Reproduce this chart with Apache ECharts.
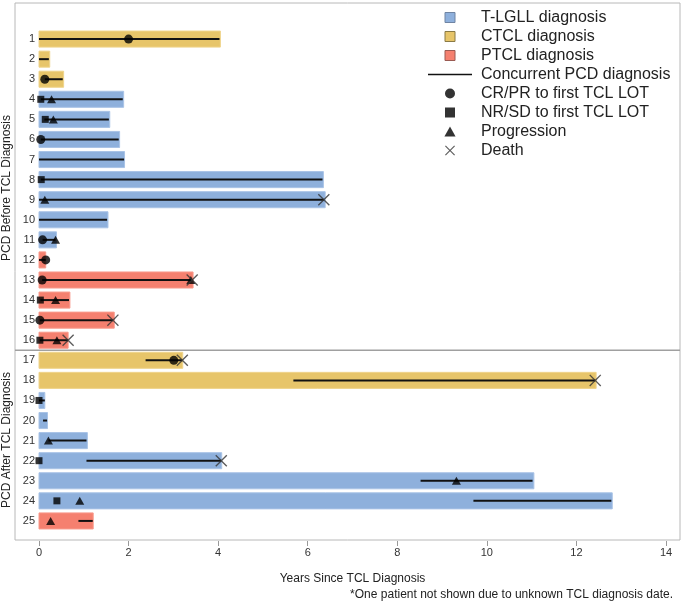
<!DOCTYPE html>
<html><head><meta charset="utf-8">
<script src="https://cdn.jsdelivr.net/npm/echarts@6/dist/echarts.min.js"></script>
<style>html,body{margin:0;padding:0;background:#fff}#c{width:682px;height:605px}</style>
</head><body><div id="c"></div>
<script>
// ---- data ----
const patients = [1,2,3,4,5,6,7,8,9,10,11,12,13,14,15,16,17,18,19,20,21,22,23,24,25];
const tclType = ['CTCL','CTCL','CTCL','T-LGLL','T-LGLL','T-LGLL','T-LGLL','T-LGLL','T-LGLL','T-LGLL','T-LGLL',
  'PTCL','PTCL','PTCL','PTCL','PTCL','CTCL','CTCL','T-LGLL','T-LGLL','T-LGLL','T-LGLL','T-LGLL','T-LGLL','PTCL'];
const followUpYears = [4.05,0.24,0.55,1.89,1.58,1.80,1.91,6.35,6.39,1.54,0.39,0.15,3.44,0.69,1.68,0.65,
  3.21,12.44,0.13,0.19,1.08,4.08,11.05,12.80,1.21];
const pcdStart = [0,0,0.13,0.04,0.12,0.04,0,0.04,0,0,0.08,0,0.07,0.03,0.02,0.02,2.38,5.68,0,0.09,0.21,1.06,8.52,9.70,0.88];
const pcdEnd = [4.03,0.22,0.53,1.87,1.56,1.78,1.90,6.33,6.36,1.52,0.37,0.15,3.40,0.67,1.65,0.65,3.20,12.42,0.13,0.18,1.06,4.07,11.02,12.78,1.20];
const crprPoints = [[2.0,1],[0.13,3],[0.04,6],[0.08,11],[0.15,12],[0.07,13],[0.02,15],[3.01,17]];
const nrsdPoints = [[0.04,4],[0.14,5],[0.05,8],[0.03,14],[0.02,16],[0.0,19],[0.0,22],[0.40,24]];
const progressionPoints = [[0.28,4],[0.32,5],[0.13,9],[0.37,11],[3.39,13],[0.37,14],[0.40,16],[0.21,21],[9.32,23],[0.91,24],[0.26,25]];
const deathPoints = [[6.36,9],[3.42,13],[1.65,15],[0.65,16],[3.20,17],[12.42,18],[4.07,22]];
const dividerAfterRow = 16;
const xTicks = {min: 0, max: 14, interval: 2};
const typeNames = {'T-LGLL':'T-LGLL diagnosis','CTCL':'CTCL diagnosis','PTCL':'PTCL diagnosis'};
const typeColors = {'T-LGLL':['#8eb0dc','#a9c3e6'],'CTCL':['#e7c56a','#efd48c'],'PTCL':['#f5806f','#f89a8c']};

const FONT = "'Liberation Sans', Arial, sans-serif";
const X_PATH = 'path://M8,0L50,42L92,0L100,8L58,50L100,92L92,100L50,58L8,100L0,92L42,50L0,8Z';

const chart = echarts.init(document.getElementById('c'));

function barRender(params, api) {
  const s = api.coord([0, api.value(1)]);
  const e = api.coord([api.value(0), api.value(1)]);
  const h = api.size([0, 1])[1] * 0.8;
  return {type:'rect', shape:{x:s[0], y:s[1]-h/2, width:e[0]-s[0], height:h}, style: api.style()};
}
function lineRender(params, api) {
  const s = api.coord([api.value(0), api.value(2)]);
  const e = api.coord([api.value(1), api.value(2)]);
  return {type:'line', shape:{x1:s[0], y1:s[1], x2:e[0], y2:e[1]}, style:{stroke:'#111', lineWidth:2}};
}

const barSeries = Object.keys(typeNames).map(t => ({
  type:'custom', name: typeNames[t], xAxisIndex:1, yAxisIndex:1, z:2,
  renderItem: barRender,
  itemStyle:{color: typeColors[t][0], borderColor: typeColors[t][1], borderWidth:1},
  encode:{x:0, y:1},
  data: patients.map((p,i) => tclType[i] === t ? [followUpYears[i], p] : null).filter(d => d)
}));

const option = {
  animation:false,
  backgroundColor:'#fff',
  textStyle:{fontFamily: FONT},
  grid:[
    {left:15, right:2, top:3, bottom:65, show:true, borderColor:'#b8b8b8', borderWidth:1, backgroundColor:'transparent'},
    {left:39, right:16, top:19, bottom:64}
  ],
  xAxis:[
    {gridIndex:0, type:'value', min:0, max:1, show:false},
    {gridIndex:1, type:'value', position:'bottom', min:xTicks.min, max:xTicks.max, interval:xTicks.interval,
     axisLine:{show:false, onZero:false}, splitLine:{show:false},
     axisTick:{show:true, length:5, lineStyle:{color:'#999'}},
     axisLabel:{fontSize:11, color:'#333', margin:6, fontFamily:FONT},
     name:'Years Since TCL Diagnosis', nameLocation:'middle', nameGap:32,
     nameTextStyle:{fontSize:12, color:'#222', fontFamily:FONT}}
  ],
  yAxis:[
    {gridIndex:0, type:'value', inverse:true, min:-16/20.077, max:26-1/20.077, show:false},
    {gridIndex:1, type:'value', inverse:true, min:0, max:26, interval:1,
     axisLine:{show:false, onZero:false}, axisTick:{show:false}, splitLine:{show:false},
     axisLabel:{fontSize:11, color:'#333', margin:4, fontFamily:FONT,
       formatter: v => (v >= 1 && v <= patients.length) ? String(v) : ''}}
  ],
  legend:{
    orient:'vertical', left:428, top:8, padding:0, itemWidth:44, itemHeight:10, itemGap:0,
    selectedMode:false,
    textStyle:{fontSize:16, lineHeight:19, color:'#222', fontFamily:FONT, padding:[0,0,0,4]},
    data:[
      {name:'T-LGLL diagnosis', icon:'path://M0,0H10V10H0Z', itemStyle:{borderColor:'#6f84a3', borderWidth:1}},
      {name:'CTCL diagnosis', icon:'path://M0,0H10V10H0Z', itemStyle:{borderColor:'#8a7a45', borderWidth:1}},
      {name:'PTCL diagnosis', icon:'path://M0,0H10V10H0Z', itemStyle:{borderColor:'#9a5a52', borderWidth:1}},
      {name:'Concurrent PCD diagnosis', icon:'path://M0,0H44V1.6H0Z', itemStyle:{borderWidth:0}},
      {name:'CR/PR to first TCL LOT', icon:'circle', itemStyle:{borderWidth:0}},
      {name:'NR/SD to first TCL LOT', icon:'path://M0,0H10V10H0Z', itemStyle:{borderWidth:0}},
      {name:'Progression', icon:'path://M5,0L10,9L0,9Z', itemStyle:{borderWidth:0}},
      {name:'Death', icon:X_PATH, itemStyle:{borderWidth:0}}
    ]
  },
  graphic:[
    {type:'text', x:7, y:188, rotation:Math.PI/2,
     style:{text:'PCD Before TCL Diagnosis', font:'12px '+FONT, fill:'#222', align:'center', verticalAlign:'middle'}},
    {type:'text', x:7, y:440, rotation:Math.PI/2,
     style:{text:'PCD After TCL Diagnosis', font:'12px '+FONT, fill:'#222', align:'center', verticalAlign:'middle'}},
    {type:'text', right:9, top:589,
     style:{text:'*One patient not shown due to unknown TCL diagnosis date.', font:'12px '+FONT, fill:'#222'}}
  ],
  series:[
    {type:'custom', name:'divider', xAxisIndex:0, yAxisIndex:0, silent:true, z:5,
     data:[[dividerAfterRow + 0.5]], encode:{y:0},
     renderItem:(params, api) => {
       const cs = params.coordSys;
       const p = api.coord([0, api.value(0)]);
       return {type:'line', shape:{x1:cs.x, y1:p[1], x2:cs.x+cs.width, y2:p[1]}, style:{stroke:'#a0a0a0', lineWidth:1.6}};
     }},
    ...barSeries,
    {type:'custom', name:'Concurrent PCD diagnosis', xAxisIndex:1, yAxisIndex:1, z:3,
     itemStyle:{color:'#111'}, encode:{x:[0,1], y:2}, renderItem: lineRender,
     data: patients.map((p,i) => [pcdStart[i], pcdEnd[i], p])},
    {type:'scatter', name:'CR/PR to first TCL LOT', xAxisIndex:1, yAxisIndex:1, z:4, clip:false,
     symbol:'circle', symbolSize:9, itemStyle:{color:'#000'}, data: crprPoints},
    {type:'scatter', name:'NR/SD to first TCL LOT', xAxisIndex:1, yAxisIndex:1, z:4, clip:false,
     symbol:'rect', symbolSize:7, itemStyle:{color:'#000'}, data: nrsdPoints},
    {type:'scatter', name:'Progression', xAxisIndex:1, yAxisIndex:1, z:4, clip:false,
     symbol:'triangle', symbolSize:[9,8], itemStyle:{color:'#000'}, data: progressionPoints},
    {type:'scatter', name:'Death', xAxisIndex:1, yAxisIndex:1, z:4, clip:false,
     symbol:X_PATH, symbolSize:12, itemStyle:{color:'#333'}, data: deathPoints}
  ]
};
chart.setOption(option);
</script></body></html>
